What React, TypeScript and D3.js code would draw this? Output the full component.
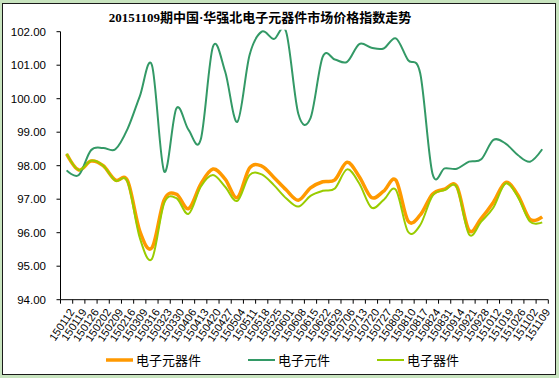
import React from "react";
import * as d3 from "d3";

const categories = [
  "150112","150119","150126","150202","150209","150216","150309","150316","150323","150330",
  "150406","150413","150420","150427","150504","150511","150518","150525","150601","150608",
  "150615","150622","150629","150706","150713","150720","150727","150803","150810","150817",
  "150824","150831","150914","150921","150928","151012","151019","151026","151102","151109",
];

// 电子元器件 (orange)
const seriesA = [
  98.35, 97.87, 98.14, 98.0, 97.57, 97.55, 96.05, 95.55, 96.98, 97.15,
  96.72, 97.45, 97.9, 97.6, 97.05, 97.93, 97.99, 97.65, 97.28, 96.97,
  97.34, 97.52, 97.58, 98.1, 97.67, 97.05, 97.24, 97.57, 96.35, 96.53,
  97.15, 97.3, 97.38, 96.07, 96.43, 96.91, 97.5, 97.13, 96.4, 96.47,
];
// 电子元件 (green)
const seriesB = [
  97.86, 97.72, 98.46, 98.53, 98.49, 99.1, 100.07, 101.0, 97.83, 99.71,
  99.07, 98.78, 101.55, 100.81, 99.31, 101.3, 102.0, 101.78, 102.0, 99.55,
  99.42, 101.25, 101.17, 101.1, 101.63, 101.52, 101.5, 101.8, 101.15, 100.75,
  97.77, 97.92, 97.91, 98.12, 98.19, 98.77, 98.66, 98.32, 98.12, 98.49,
];
// 电子器件 (light green)
const seriesC = [
  98.36, 97.87, 98.15, 98.0, 97.55, 97.52, 95.85, 95.22, 96.88, 97.03,
  96.56, 97.37, 97.72, 97.37, 96.95, 97.72, 97.74, 97.42, 97.03, 96.78,
  97.1, 97.25, 97.32, 97.89, 97.47, 96.75, 96.98, 97.28, 96.03, 96.23,
  97.1, 97.27, 97.35, 95.95, 96.33, 96.75, 97.47, 97.07, 96.33, 96.31,
];

const seriesNames = ["电子元器件", "电子元件", "电子器件"];
const seriesColors = ["#FF9900", "#339966", "#99CC00"];
const seriesWidths = [3.5, 2, 2];
const yTicks = [94, 95, 96, 97, 98, 99, 100, 101, 102];
const title = "20151109期中国·华强北电子元器件市场价格指数走势";

const W = 559, H = 378;
const plot = { left: 60.5, right: 548.3, top: 31.7, bottom: 299.7 };

export default function App() {
  const x = d3.scaleBand<string>().domain(categories).range([plot.left, plot.right]).padding(0);
  const bw = x.bandwidth();
  const cx = (c: string) => (x(c) as number) + bw / 2;
  const y = d3.scaleLinear().domain([94, 102]).range([plot.bottom, plot.top]);
  const line = d3
    .line<number>()
    .x((_, i) => cx(categories[i]))
    .y((d) => y(d))
    .curve(d3.curveCardinal.tension(0));
  const all = [seriesA, seriesB, seriesC];
  const legendItems = [
    { x1: 106, text: 136 },
    { x1: 248, text: 278 },
    { x1: 377, text: 407 },
  ];
  const xTicks = [...categories.map((c) => x(c) as number), plot.right];

  return (
    <svg
      width={W}
      height={H}
      style={{ position: "absolute", left: 0, top: 0, display: "block" }}
      fontFamily="'Liberation Sans', Arial, sans-serif"
    >
      <rect x={0} y={0} width={W} height={H} fill="#c8e4bf" />
      <rect x={2.5} y={3.5} width={553} height={371} fill="#ffffff" stroke="#1a1a1a" strokeWidth={1} />
      <defs>
        <clipPath id="plotclip">
          <rect x={plot.left} y={plot.top - 2} width={plot.right - plot.left} height={plot.bottom - plot.top + 2} />
        </clipPath>
      </defs>
      <text
        x={260}
        y={22}
        textAnchor="middle"
        fontSize={13}
        fontWeight="bold"
        fontFamily="'Liberation Serif', 'Noto Sans CJK SC', serif"
        fill="#000"
      >
        {title}
      </text>
      {/* y axis */}
      <line x1={plot.left} x2={plot.left} y1={plot.top} y2={plot.bottom} stroke="#000" strokeWidth={1} />
      {yTicks.map((t) => (
        <g key={t}>
          <line x1={plot.left - 4} x2={plot.left} y1={y(t)} y2={y(t)} stroke="#000" />
          <text x={46} y={y(t)} dy="0.36em" textAnchor="end" fontSize={11.5} fill="#000">
            {t.toFixed(2)}
          </text>
        </g>
      ))}
      {/* x axis */}
      <line x1={plot.left} x2={plot.right} y1={plot.bottom} y2={plot.bottom} stroke="#000" strokeWidth={1} />
      {xTicks.map((t, i) => (
        <line key={i} x1={t} x2={t} y1={plot.bottom} y2={plot.bottom + 4} stroke="#000" />
      ))}
      {categories.map((c) => (
        <text
          key={c}
          transform={`translate(${cx(c) + 2},${plot.bottom + 8}) rotate(-56)`}
          textAnchor="end"
          dy="0.7em"
          fontSize={11}
          fill="#000"
        >
          {c}
        </text>
      ))}
      <g clipPath="url(#plotclip)">
        {all.map((s, k) => (
          <path key={k} d={line(s) || ""} fill="none" stroke={seriesColors[k]} strokeWidth={seriesWidths[k]} strokeLinejoin="round" />
        ))}
      </g>
      {/* legend */}
      {legendItems.map((it, k) => (
        <g key={k}>
          <line x1={it.x1} x2={it.x1 + 27} y1={360} y2={360} stroke={seriesColors[k]} strokeWidth={seriesWidths[k]} />
          <text x={it.text} y={360} dy="0.38em" fontSize={13} fontFamily="'Noto Sans CJK SC', sans-serif" fill="#000">
            {seriesNames[k]}
          </text>
        </g>
      ))}
    </svg>
  );
}
